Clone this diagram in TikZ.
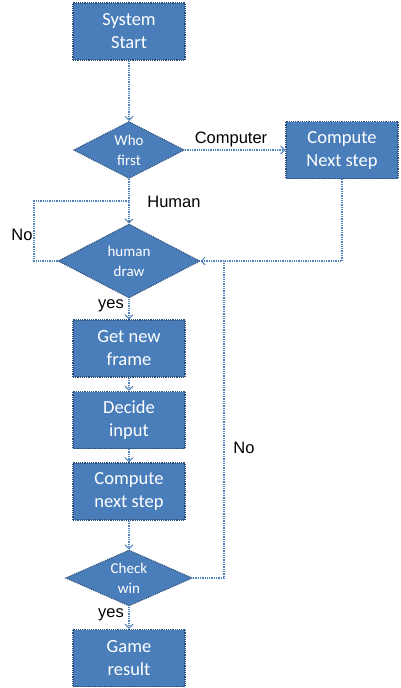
\documentclass[tikz,border=0pt]{standalone}
\usepackage{fontspec}
\setmainfont{Carlito}
\newfontfamily\lblfont{Liberation Sans}
\usetikzlibrary{shapes.geometric,arrows.meta}
\definecolor{boxfill}{HTML}{4A7EBB}
\definecolor{boxline}{HTML}{2C4D75}
\definecolor{linkc}{HTML}{4F81BD}
\tikzset{
  procbox/.style={draw=boxline, densely dotted, line width=1.2pt, fill=boxfill, text=white,
    minimum width=112pt, minimum height=57pt, inner sep=0pt, align=center,
    font=\fontsize{18.5}{23}\selectfont},
  decbox/.style={diamond, draw=boxline, densely dotted, line width=1pt, fill=boxfill, text=white,
    inner sep=0pt, aspect=2, align=center, font=\fontsize{15}{20}\selectfont},
  link/.style={draw=linkc, densely dotted, line width=1.3pt},
  arr/.style={link, -{Straight Barb[length=4pt,width=8pt,line width=1pt]}},
  lbl/.style={font=\lblfont\fontsize{16.5}{19}\selectfont, text=black, inner sep=0pt}
}
\begin{document}
\begin{tikzpicture}[x=1pt,y=-1pt]
\useasboundingbox (0,0) rectangle (400,688);
\node[procbox] (start) at (129,31.5) {System\\Start};
\node[decbox, minimum width=111pt, minimum height=57pt] (who) at (129,150) {Who\\first};
\node[procbox] (cns) at (342,150) {Compute\\Next step};
\node[decbox, minimum width=142pt, minimum height=74pt] (hd) at (129,261) {human\\draw};
\node[procbox] (gnf) at (129,348.5) {Get new\\frame};
\node[procbox] (di) at (129,420) {Decide\\input};
\node[procbox] (cns2) at (129,491.5) {Compute\\next step};
\node[decbox, minimum width=127pt, minimum height=56pt] (cw) at (129,578) {Check\\win};
\node[procbox] (gr) at (129,658) {Game\\result};

\coordinate (j1) at (129,201);
\coordinate (l1) at (34,201);
\coordinate (l2) at (34,261);
\coordinate (r1) at (342,261);
\coordinate (c1) at (224,578);
\coordinate (c2) at (224,261);

\draw[arr] (start.south) -- (who.north);
\draw[arr] (who.east) -- (cns.west);
\draw[arr] (who.south) -- (hd.north);
\draw[link] (hd.west) -- (l2) -- (l1) -- (j1);
\draw[arr] (cns.south) -- (r1) -- (hd.east);
\draw[arr] (hd.south) -- (gnf.north);
\draw[arr] (gnf.south) -- (di.north);
\draw[arr] (di.south) -- (cns2.north);
\draw[arr] (cns2.south) -- (cw.north);
\draw[link] (cw.east) -- (c1) -- (c2);
\draw[arr] (cw.south) -- (gr.north);

\node[lbl] (tcomp) at (231,139) {Computer};
\node[lbl] (thum) at (174,202) {Human};
\node[lbl] (tno1) at (22,235) {No};
\node[lbl] (tyes1) at (111,306) {yes};
\node[lbl] (tno2) at (244,448) {No};
\node[lbl] (tyes2) at (111,615) {yes};
\end{tikzpicture}
\end{document}
